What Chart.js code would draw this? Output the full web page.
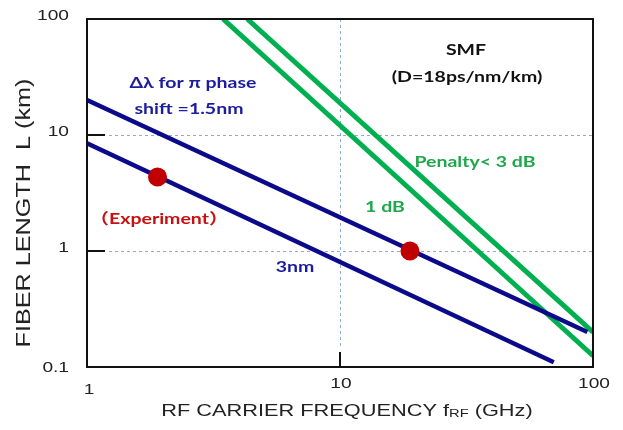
<!DOCTYPE html>
<html>
<head>
<meta charset="utf-8">
<script src="https://cdn.jsdelivr.net/npm/chart.js@4.4.0/dist/chart.umd.min.js"></script>
<style>
  html, body { margin: 0; padding: 0; background: #fff; }
  #wrap { width: 623px; height: 430px; }
</style>
</head>
<body>
<div id="wrap"><canvas id="myChart" width="623" height="430"></canvas></div>
<script>
(() => {
  'use strict'

  // axis ticks
  const xTicks = [1, 10, 100]
  const yTicks = [0.1, 1, 10, 100]
  const gridX = [10]
  const gridY = [1, 10]

  // [frequency GHz, length km]
  const shift15nm = [[1, 20], [95, 0.2]]
  const shift3nm = [[1, 8.5], [70, 0.11]]
  const penalty1dB = [[3.45, 100], [100, 0.125]]
  const penalty3dB = [[4.3, 100], [100, 0.2]]
  const experiment = [[1.9, 4.35], [18.9, 1.0]]

  const pts = arr => arr.map(p => ({ x: p[0], y: p[1] }))

  const BLUE = '#0a0a8a'
  const GREEN = '#00b050'
  const RED = '#c00000'
  const AXIS_FONT = 'Arial, "Liberation Sans", sans-serif'
  const NOTE_FONT = 'Lato, "Noto Sans CJK JP", sans-serif'
  const STRETCH = 1.3 // the original picture is wider than it is tall

  // annotation texts, canvas px
  const notes = [
    { text: 'Δλ for π phase', x: 193, y: 83, color: '#1c1c9e' },
    { text: 'shift =1.5nm', x: 189, y: 109, color: '#1c1c9e' },
    { text: 'SMF', x: 466, y: 50, color: '#111' },
    { text: '(D=18ps/nm/km)', x: 467, y: 77, color: '#111' },
    { text: 'Penalty< 3 dB', x: 475, y: 162, color: '#1ea84a' },
    { text: '1 dB', x: 385, y: 207, color: '#1ea84a' },
    { text: '（Experiment）', x: 159, y: 219, color: '#c81010' },
    { text: '3nm', x: 295, y: 267, color: '#1c1c9e' }
  ]

  function stretched (ctx, text, x, y, sx) {
    ctx.save()
    ctx.translate(x, y)
    ctx.scale(sx, 1)
    ctx.fillText(text, 0, 0)
    ctx.restore()
  }

  const decor = {
    id: 'decor',
    beforeDatasetsDraw (chart) {
      const { ctx, chartArea: a, scales: { x, y } } = chart
      ctx.save()
      ctx.strokeStyle = '#8eaadb'
      ctx.lineWidth = 1
      ctx.setLineDash([3, 3])
      gridY.forEach(v => {
        const py = Math.round(y.getPixelForValue(v)) + 0.5
        ctx.beginPath(); ctx.moveTo(a.left + 22, py); ctx.lineTo(a.right, py); ctx.stroke()
      })
      gridX.forEach(v => {
        const px = Math.round(x.getPixelForValue(v)) + 0.5
        ctx.beginPath(); ctx.moveTo(px, a.top); ctx.lineTo(px, a.bottom - 20); ctx.stroke()
      })
      ctx.restore()
    },
    afterDraw (chart) {
      const { ctx, chartArea: a, scales: { x, y } } = chart
      ctx.save()
      ctx.strokeStyle = '#111'
      ctx.lineWidth = 2
      ctx.setLineDash([])
      ctx.strokeRect(a.left, a.top, a.right - a.left, a.bottom - a.top)
      // inward ticks
      gridY.forEach(v => {
        const py = Math.round(y.getPixelForValue(v))
        ctx.beginPath(); ctx.moveTo(a.left, py); ctx.lineTo(a.left + 18, py); ctx.stroke()
      })
      gridX.forEach(v => {
        const px = Math.round(x.getPixelForValue(v))
        ctx.beginPath(); ctx.moveTo(px, a.bottom); ctx.lineTo(px, a.bottom - 15); ctx.stroke()
      })

      // tick labels
      ctx.fillStyle = '#222'
      ctx.font = '14.5px ' + AXIS_FONT
      ctx.textBaseline = 'middle'
      ctx.textAlign = 'right'
      yTicks.forEach(v => {
        const py = y.getPixelForValue(v) + (v === 0.1 ? 1 : -3)
        stretched(ctx, String(v), a.left - 18, py, 1.32)
      })
      ctx.textAlign = 'center'
      xTicks.forEach(v => {
        const px = x.getPixelForValue(v) + (v === 1 ? 2 : 1)
        stretched(ctx, String(v), px, a.bottom + (v === 1 ? 23 : 17), 1.32)
      })

      ctx.font = 'bold 15px ' + NOTE_FONT
      notes.forEach(n => {
        ctx.fillStyle = n.color
        stretched(ctx, n.text, n.x, n.y, STRETCH)
      })

      // axis titles
      ctx.fillStyle = '#222'
      ctx.save()
      ctx.translate(24, 213)
      ctx.rotate(-Math.PI / 2)
      ctx.scale(1.2, 1)
      ctx.font = '21px ' + AXIS_FONT
      ctx.fillText('FIBER LENGTH  L (km)', 0, 0)
      ctx.restore()

      const parts = [
        { t: 'RF CARRIER FREQUENCY f', f: '17px ' + AXIS_FONT, dy: 0 },
        { t: 'RF', f: '11.5px ' + AXIS_FONT, dy: 1 },
        { t: ' (GHz)', f: '17px ' + AXIS_FONT, dy: 0 }
      ]
      let total = 0
      parts.forEach(p => { ctx.font = p.f; p.w = ctx.measureText(p.t).width; total += p.w })
      ctx.save()
      ctx.translate(347, 416)
      ctx.scale(1.28, 1)
      let cx = -total / 2
      ctx.textAlign = 'left'
      ctx.textBaseline = 'alphabetic'
      parts.forEach(p => {
        ctx.font = p.f
        ctx.fillText(p.t, cx, p.dy)
        cx += p.w
      })
      ctx.restore()
      ctx.restore()
    }
  }

  const ctx = document.getElementById('myChart')
  // eslint-disable-next-line no-unused-vars
  const myChart = new Chart(ctx, {
    type: 'scatter',
    data: {
      datasets: [
        { data: pts(experiment), showLine: false, pointRadius: 9.5, pointHoverRadius: 9.5, backgroundColor: RED, borderColor: RED, borderWidth: 0, order: 0 },
        { data: pts(shift15nm), showLine: true, borderColor: BLUE, borderWidth: 4.5, pointRadius: 0, order: 1 },
        { data: pts(shift3nm), showLine: true, borderColor: BLUE, borderWidth: 4.5, pointRadius: 0, order: 1 },
        { data: pts(penalty1dB), showLine: true, borderColor: GREEN, borderWidth: 5, pointRadius: 0, order: 2 },
        { data: pts(penalty3dB), showLine: true, borderColor: GREEN, borderWidth: 5, pointRadius: 0, order: 2 }
      ]
    },
    options: {
      responsive: false,
      animation: false,
      layout: { padding: { left: 0, right: 30, top: 19, bottom: 0 } },
      plugins: { legend: { display: false }, tooltip: { enabled: false } },
      scales: {
        x: {
          type: 'logarithmic',
          min: 1,
          max: 100,
          afterBuildTicks: s => { s.ticks = xTicks.map(v => ({ value: v })) },
          afterFit: s => { s.height = 63 },
          grid: { display: false, drawTicks: false },
          border: { display: false },
          ticks: { display: false }
        },
        y: {
          type: 'logarithmic',
          min: 0.1,
          max: 100,
          afterBuildTicks: s => { s.ticks = yTicks.map(v => ({ value: v })) },
          afterFit: s => { s.width = 87 },
          grid: { display: false, drawTicks: false },
          border: { display: false },
          ticks: { display: false }
        }
      }
    },
    plugins: [decor]
  })
})()
</script>
</body>
</html>
